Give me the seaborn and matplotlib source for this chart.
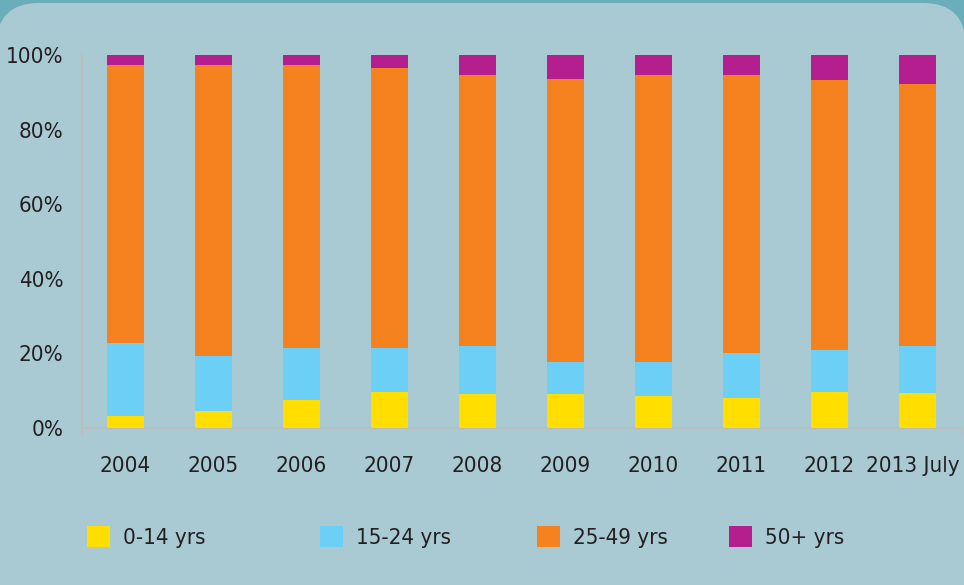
import numpy as np
import pandas as pd
import matplotlib.pyplot as plt
import matplotlib.transforms as mtransforms
import seaborn as sns
from matplotlib.patches import FancyBboxPatch, Patch

years = ["2004", "2005", "2006", "2007", "2008", "2009", "2010", "2011", "2012", "2013 July"]
age_groups = ["0-14 yrs", "15-24 yrs", "25-49 yrs", "50+ yrs"]
age_0_14 = [3.1, 4.4, 7.5, 9.5, 9.0, 9.0, 8.5, 7.9, 9.5, 9.3]
age_15_24 = [19.6, 14.8, 13.9, 11.9, 12.9, 8.6, 9.1, 12.1, 11.3, 12.6]
age_25_49 = [74.5, 78.0, 76.0, 75.2, 72.8, 76.0, 76.9, 74.5, 72.6, 70.2]
age_50_plus = [2.8, 2.8, 2.6, 3.4, 5.3, 6.4, 5.5, 5.5, 6.6, 7.9]
colors = ["#ffde00", "#6ccff6", "#f6821f", "#b41e8e"]

PANEL = "#a9cad3"
EDGE = "#6aaebc"
AXIS_GREY = "#bdbdbd"
TEXT = "#231f20"

df = pd.DataFrame({"year": years, age_groups[0]: age_0_14, age_groups[1]: age_15_24,
                   age_groups[2]: age_25_49, age_groups[3]: age_50_plus})
cum = df[age_groups].cumsum(axis=1)
cum.insert(0, "year", df["year"])

sns.set_style("white")
plt.rcParams["font.family"] = ["DejaVu Sans"]
plt.rcParams["font.stretch"] = "condensed"

fig = plt.figure(figsize=(9.64, 5.85), dpi=100)
fig.patch.set_facecolor(EDGE)
# rounded light panel behind everything
panel = FancyBboxPatch((-0.004, -0.06), 1.006, 1.055, transform=fig.transFigure,
                       boxstyle="round,pad=0,rounding_size=0.045",
                       facecolor=PANEL, edgecolor="none", zorder=-5,
                       mutation_aspect=964 / 585)
fig.patches.append(panel)

ax = fig.add_axes([82 / 964, 1 - 435 / 585, 880 / 964, 380 / 585])
ax.set_facecolor("none")
ax.set_zorder(2)

# stacked bars: draw cumulative totals from the top layer down
for grp, col in reversed(list(zip(age_groups, colors))):
    sns.barplot(data=cum, x="year", y=grp, color=col, width=0.42,
                saturation=1, linewidth=0, edgecolor="none", ax=ax, zorder=2)

ax.set_xlim(-0.49, 9.51)
ax.set_ylim(-2, 100)
ax.set_yticks([0, 20, 40, 60, 80, 100])
ax.set_yticklabels([f"{v}%" for v in [0, 20, 40, 60, 80, 100]])
ax.set_xlabel("")
ax.set_ylabel("")

for s in ["top", "right", "bottom"]:
    ax.spines[s].set_visible(False)
ax.spines["left"].set_color(AXIS_GREY)
ax.spines["left"].set_linewidth(1.5)
ax.spines["left"].set_bounds(-2, 100)
ax.axhline(0, color=AXIS_GREY, lw=1.5, zorder=1)
ax.plot([9.51, 9.51], [0, -1.6], color=AXIS_GREY, lw=1.5, clip_on=False, zorder=1)

ax.tick_params(axis="y", length=7.2, width=1.5, color=AXIS_GREY, pad=6,
               labelsize=16, labelcolor=TEXT)
ax.tick_params(axis="x", length=0, pad=15, labelsize=16, labelcolor=TEXT)

# the last label sits tight against the right edge
last = ax.get_xticklabels()[-1]
last.set_transform(last.get_transform() +
                   mtransforms.ScaledTranslation(-4 / 100, 0, fig.dpi_scale_trans))

# legend entries spread along the bottom
legend_x = [87, 320, 537, 729]
for grp, col, lx in zip(age_groups, colors, legend_x):
    leg = fig.legend(handles=[Patch(facecolor=col, edgecolor="none", label=grp)],
                     loc="center left", bbox_to_anchor=(lx / 964, 1 - 537 / 585),
                     frameon=False, fontsize=16, handlelength=1.05, handleheight=1.1,
                     handletextpad=0.55, borderaxespad=0, borderpad=0)
    for t in leg.get_texts():
        t.set_color(TEXT)

fig.savefig("out.png", dpi=100, facecolor=fig.get_facecolor())
